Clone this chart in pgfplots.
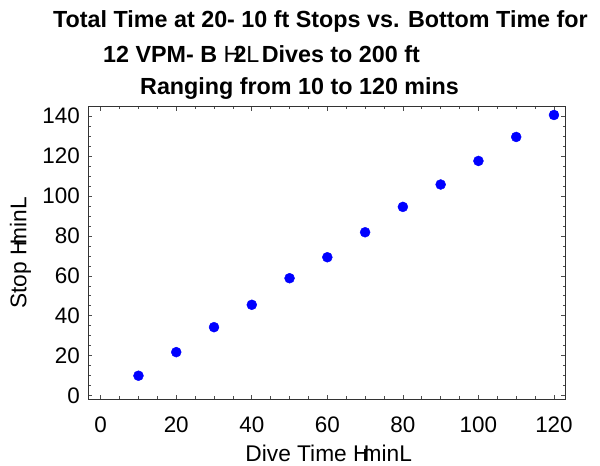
\documentclass[border=0pt]{standalone}
\usepackage{pgfplots}
\pgfplotsset{compat=1.18}
\usepackage{fontspec}
\setmainfont{Liberation Sans}
\begin{document}
\begin{tikzpicture}[x=1bp,y=1bp]
\useasboundingbox (0,0) rectangle (600,466);
\begin{axis}[
  scale only axis, width=477bp, height=292.3bp,
  at={(88.3bp,67bp)}, anchor=south west,
  xmin=-3.28, xmax=123.0, ymin=-1.65, ymax=144.65,
  xtick={0,20,...,120}, ytick={0,20,...,140},
  minor x tick num=3, minor y tick num=3,
  tick align=inside, major tick length=4bp, minor tick length=2.5bp,
  tick style={black!70, line width=0.6bp},
  axis line style={black!80, line width=0.8bp},
  /pgf/number format/assume math mode=true,
  tick label style={font=\fontsize{22.5}{26}\selectfont, inner sep=0pt},
  xticklabel style={anchor=base, yshift=-34bp},
  yticklabel style={anchor=east, xshift=-8.3bp},
  label style={font=\fontsize{22.8}{26}\selectfont, inner sep=0pt},
  xlabel={Dive Time H\kern-0.3em minL},
  ylabel={Stop H\kern-0.3em minL},
  xlabel style={at={(axis description cs:0.504,-0.2155)}, anchor=base},
  ylabel style={at={(axis description cs:-0.13,0.5)}, anchor=base, rotate=0},
]
\addplot[only marks, mark=*, mark size=5bp, color={rgb,255:red,0;green,0;blue,255}, mark options={draw=none, fill={rgb,255:red,0;green,0;blue,255}}]
coordinates {
(10,10.0) (20,21.8) (30,34.3) (40,45.5) (50,58.8) (60,69.3)
(70,81.8) (80,94.5) (90,105.7) (100,117.5) (110,129.5) (120,140.5)
};
\end{axis}
\begin{scope}[every node/.style={anchor=base west, inner sep=0pt, font=\bfseries\fontsize{23.4}{26}\selectfont}]
\node at (53,438) {Total Time at 20- 10 ft Stops vs. Bottom Time for};
\node at (103,403.5) {12 VPM- B {\mdseries H}\kern-0.3em 2{\mdseries L}\kern0.1em Dives to 200 ft};
\node at (140,371) {Ranging from 10 to 120 mins};
\end{scope}
\end{tikzpicture}
\end{document}
